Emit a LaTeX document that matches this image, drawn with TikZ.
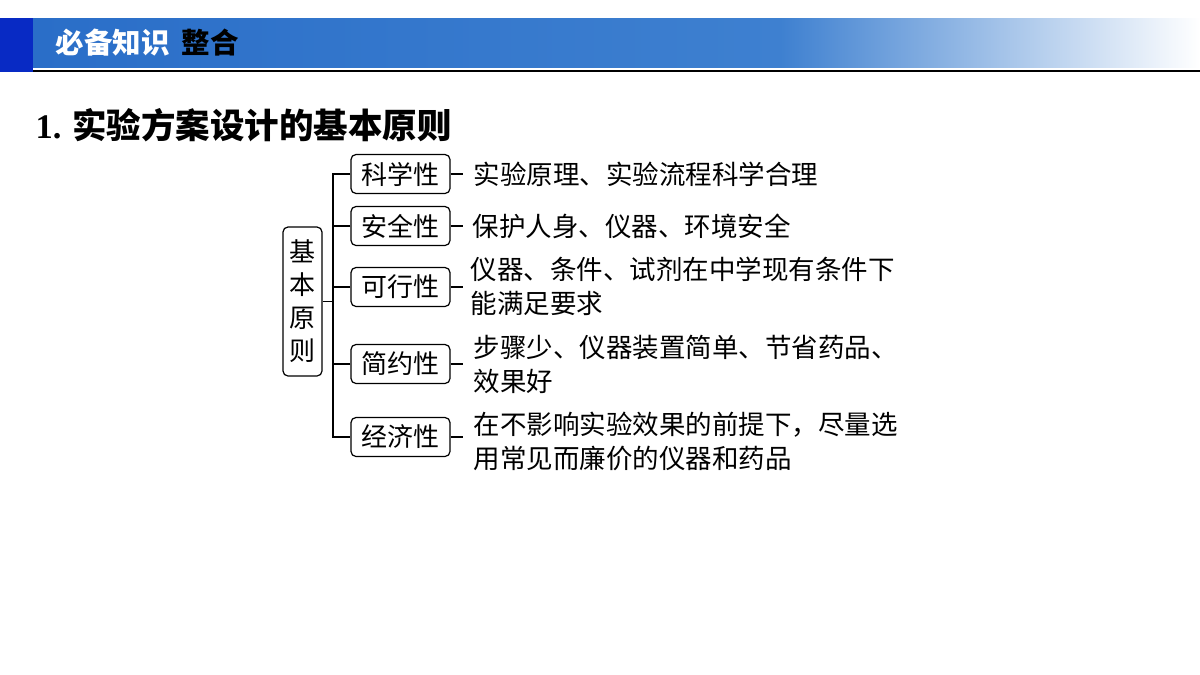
\documentclass[tikz,border=0pt]{standalone}
\usepackage{fontspec}
\setmainfont{Noto Sans CJK SC}
\newfontfamily\tnr{Liberation Serif}
\usepackage{tikz}
\usetikzlibrary{positioning}

\definecolor{hdark}{RGB}{8,42,196}
\definecolor{hblue}{RGB}{42,110,200}
\definecolor{hblue2}{RGB}{62,128,208}

\tikzset{
    kbox/.style={draw,rounded corners=5pt,line width=1.2pt,minimum width=99pt,minimum height=39pt,inner sep=0pt,font=\fontsize{26}{30}\selectfont},
    desc/.style={anchor=west,align=left,inner sep=0pt,font=\fontsize{26.5}{34}\selectfont},
}

\begin{document}
\begin{tikzpicture}[x=1pt,y=-1pt,line width=1.2pt]
    \useasboundingbox (0,0) rectangle (1200,675);

    % header bar
    \fill[hdark] (0,18) rectangle (33,72);
    \shade[left color=hblue,right color=hblue2] (33,18) rectangle (780,67);
    \shade[left color=hblue2,right color=white] (780,18) rectangle (1200,67);
    \draw[line width=2pt] (33,70.5) -- (1200,70.5);
    \node[anchor=west,inner sep=0pt,font=\fontsize{28.5}{30}\selectfont\bfseries] (head) at (55,43)
        {\textcolor{white}{必备知识}\hspace{12pt}整合};

    \node[anchor=west,inner sep=0pt,font=\fontsize{34.5}{36}\selectfont\bfseries] (title) at (35,125)
        {{\tnr 1.} 实验方案设计的基本原则};

    % tree
    \node[draw,rounded corners=5pt,minimum width=39pt,minimum height=149pt,inner sep=0pt,align=center,
        font=\fontsize{26}{33}\selectfont] (root) at (302.5,301.5) {基\\本\\原\\则};
    \coordinate (t) at (333,0);

    \node[kbox] (b1) at (400.5,174) {科学性};
    \node[kbox] (b2) at (400.5,226) {安全性};
    \node[kbox] (b3) at (400.5,287) {可行性};
    \node[kbox] (b4) at (400.5,364) {简约性};
    \node[kbox] (b5) at (400.5,437) {经济性};

    \node[desc] (d1) at (473,174) {实验原理、实验流程科学合理};
    \node[desc] (d2) at (472,226) {保护人身、仪器、环境安全};
    \node[desc] (d3) at (470,286) {仪器、条件、试剂在中学现有条件下\\能满足要求};
    \node[desc] (d4) at (473,364) {步骤少、仪器装置简单、节省药品、\\效果好};
    \node[desc] (d5) at (473,441) {在不影响实验效果的前提下，尽量选\\用常见而廉价的仪器和药品};

    \draw (root) -- (root -| t);
    \draw (b1.west) -- (b1.west -| t) -- (b5.west -| t) -- (b5.west);
    \foreach \i in {2,3,4} {
        \draw (b\i.west) -- (b\i.west -| t);
    }
    \foreach \i in {1,...,5} {
        \draw (b\i.east) -- ++(12,0);
    }

\end{tikzpicture}
\end{document}
